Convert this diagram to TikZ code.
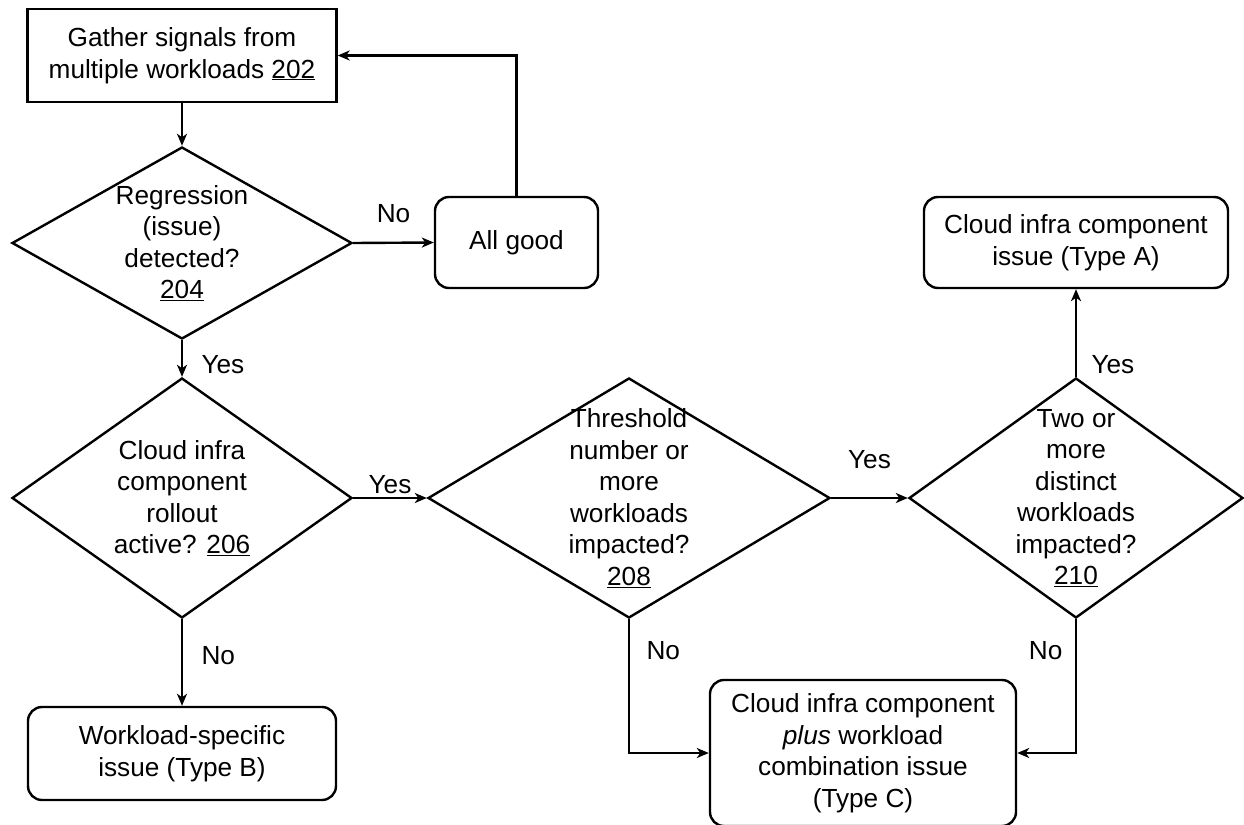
\documentclass[tikz,border=0pt]{standalone}
\usepackage{fontspec}
\setmainfont{Liberation Sans}
\usetikzlibrary{shapes.geometric,arrows.meta}

\tikzset{
  plainbox/.style={draw, line width=2.4pt, inner sep=0pt, align=center},
  roundbox/.style={plainbox, rounded corners=14pt},
  decision/.style={draw, diamond, line width=2.4pt, inner sep=0pt},
  qtext/.style={align=center},
  flow/.style={line width=2.4pt, -{Stealth[length=12pt,width=10pt,inset=3.5pt]}},
}

\begin{document}
\begin{tikzpicture}[x=1pt, y=-1pt, font=\fontsize{26.2}{31.5}\selectfont]
	%%%%% START %%%%%
	\useasboundingbox (0,0) rectangle (1244,824);
	
	\node[plainbox, minimum width=309pt, minimum height=93pt] (gather) at (182,55.5) {Gather signals from\\multiple workloads \underline{202}};
	
	\node[decision, minimum width=340pt, minimum height=192pt, label={[qtext]center:Regression\\(issue)\\detected?\\\underline{204}}] (d204) at (182,243) {};
	\node[roundbox, minimum width=163pt, minimum height=91pt] (allgood) at (516.5,242.5) {All good};
	
	\node[decision, minimum width=340pt, minimum height=240pt, label={[qtext]center:Cloud infra\\component\\rollout\\active? \underline{206}}] (d206) at (182,498) {};
	\node[decision, minimum width=402pt, minimum height=240pt, label={[qtext]center:Threshold\\number or\\more\\workloads\\impacted?\\\underline{208}}] (d208) at (629,498) {};
	\node[decision, minimum width=334pt, minimum height=240pt, label={[qtext]center:Two or\\more\\distinct\\workloads\\impacted?\\\underline{210}}] (d210) at (1076,498) {};
	
	\node[roundbox, minimum width=304pt, minimum height=91pt] (typeA) at (1076,242.5) {Cloud infra component\\issue (Type A)};
	\node[roundbox, minimum width=308pt, minimum height=93pt] (typeB) at (182,753.5) {Workload-specific\\issue (Type B)};
	\node[roundbox, minimum width=306pt, minimum height=146pt] (typeC) at (863,753) {Cloud infra component\\\textit{plus} workload\\combination issue\\(Type C)};
	
	% connectors
	\draw[flow] (gather.south) -- (d204.north);
	\draw[flow] (d204.east) -- node[above=15pt] {No} (allgood.west);
	\draw[flow] (allgood.north) |- (gather.east);
	\draw[flow] (d204.south) -- node[right=15pt, pos=0.67] {Yes} (d206.north);
	\draw[flow] (d206.east) -- node[above] {Yes} (d208.west);
	\draw[flow] (d206.south) -- node[right=15pt, pos=0.42] {No} (typeB.north);
	\draw[flow] (d208.east) -- node[above=25pt] {Yes} (d210.west);
	\draw[flow] (d210.north) -- node[right=11pt, pos=0.14] {Yes} (typeA.south);
	\draw[flow] (d208.south) |- node[right=13pt, pos=0.118] {No} (typeC.west);
	\draw[flow] (d210.south) |- node[left=9pt, pos=0.118] {No} (typeC.east);
	
	%%%%% END %%%%%
\end{tikzpicture}
\end{document}
